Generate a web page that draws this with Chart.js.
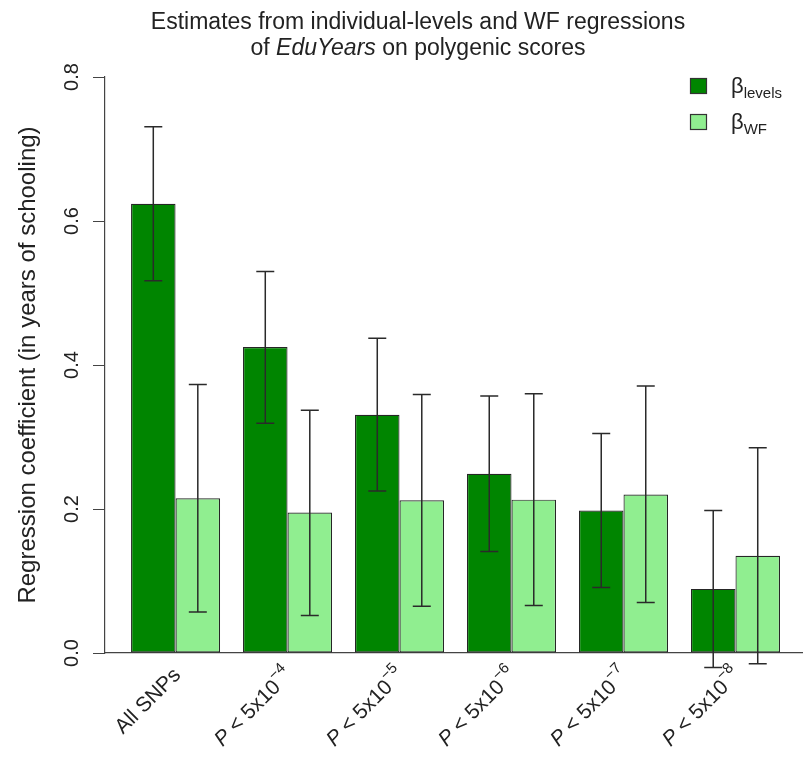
<!DOCTYPE html>
<html>
<head>
<meta charset="utf-8">
<script src="https://cdn.jsdelivr.net/npm/chart.js@4.4.0/dist/chart.umd.min.js"></script>
<style>
  html, body { margin: 0; padding: 0; background: #fff; }
  #wrap { width: 808px; height: 757px; }
</style>
</head>
<body>
<div id="wrap"><canvas id="chart"></canvas></div>
<script>
// SNP thresholds used to build each polygenic score ("^" marks the exponent)
const categories = ['All SNPs', 'P < 5x10^\u22124', 'P < 5x10^\u22125', 'P < 5x10^\u22126', 'P < 5x10^\u22127', 'P < 5x10^\u22128'];

// individual-level regressions: estimate and CI bounds
const levels     = [0.624, 0.425, 0.331, 0.249, 0.198, 0.089];
const levelsLow  = [0.517, 0.319, 0.225, 0.141, 0.091, -0.020];
const levelsHigh = [0.731, 0.530, 0.437, 0.357, 0.305, 0.198];

// within-family regressions: estimate and CI bounds
const wf     = [0.215, 0.195, 0.212, 0.213, 0.220, 0.135];
const wfLow  = [0.057, 0.052, 0.065, 0.066, 0.070, -0.015];
const wfHigh = [0.373, 0.337, 0.359, 0.360, 0.371, 0.285];

const seriesSubs = ['levels', 'WF'];
const yTicks = [0, 0.2, 0.4, 0.6, 0.8];

const FONT = '"Liberation Sans", Arial, Helvetica, sans-serif';
const INK = '#222';
const DARK = '#008500';
const LIGHT = '#90ee90';

// draw a row of text pieces with different fonts / vertical shifts
function drawRuns(ctx, runs, x, y, align) {
  let width = 0;
  runs.forEach(r => { ctx.font = r.font; r.w = ctx.measureText(r.text).width; width += r.w; });
  let cx = align === 'center' ? x - width / 2 : align === 'right' ? x - width : x;
  ctx.textAlign = 'left';
  runs.forEach(r => {
    ctx.font = r.font;
    ctx.fillText(r.text, cx, y + (r.dy || 0));
    cx += r.w;
  });
}

const errorBars = {
  id: 'errorBars',
  afterDatasetsDraw(chart) {
    const { ctx, scales: { y } } = chart;
    ctx.save();
    ctx.strokeStyle = '#2a2a2a';
    ctx.lineWidth = 1.5;
    chart.data.datasets.forEach((ds, d) => {
      chart.getDatasetMeta(d).data.forEach((bar, i) => {
        const top = y.getPixelForValue(ds.errHigh[i]);
        const bot = y.getPixelForValue(ds.errLow[i]);
        const cap = 9;
        ctx.beginPath();
        ctx.moveTo(bar.x, top); ctx.lineTo(bar.x, bot);
        ctx.moveTo(bar.x - cap, top); ctx.lineTo(bar.x + cap, top);
        ctx.moveTo(bar.x - cap, bot); ctx.lineTo(bar.x + cap, bot);
        ctx.stroke();
      });
    });
    ctx.restore();
  }
};

// rotated category labels with italic P and superscript exponent
const categoryLabels = {
  id: 'categoryLabels',
  afterDraw(chart) {
    const { ctx, scales: { x, y } } = chart;
    const base = y.getPixelForValue(0) + 19;
    ctx.save();
    ctx.fillStyle = INK;
    ctx.textBaseline = 'middle';
    categories.forEach((label, i) => {
      const [main, exp] = label.split('^');
      const runs = [];
      if (main.startsWith('P ')) {
        runs.push({ text: 'P', font: `italic 21px ${FONT}` });
        runs.push({ text: main.slice(1), font: `21px ${FONT}` });
      } else {
        runs.push({ text: main, font: `21px ${FONT}` });
      }
      if (exp) runs.push({ text: exp, font: `15px ${FONT}`, dy: -9 });
      ctx.save();
      ctx.translate(x.getPixelForValue(i) + 2, base);
      ctx.rotate(-Math.PI / 4);
      drawRuns(ctx, runs, 0, 0, 'right');
      ctx.restore();
    });
    ctx.restore();
  }
};

const titleBlock = {
  id: 'titleBlock',
  afterDraw(chart) {
    const { ctx } = chart;
    ctx.save();
    ctx.fillStyle = INK;
    ctx.textBaseline = 'alphabetic';
    drawRuns(ctx, [{ text: 'Estimates from individual-levels and WF regressions', font: `23px ${FONT}` }], 418, 29, 'center');
    drawRuns(ctx, [
      { text: 'of ', font: `23px ${FONT}` },
      { text: 'EduYears', font: `italic 23px ${FONT}` },
      { text: ' on polygenic scores', font: `23px ${FONT}` }
    ], 418, 55, 'center');
    ctx.restore();
  }
};

const betaLegend = {
  id: 'betaLegend',
  afterDraw(chart) {
    const { ctx } = chart;
    ctx.save();
    chart.data.datasets.forEach((ds, d) => {
      const cy = 86 + d * 36;
      ctx.fillStyle = ds.backgroundColor;
      ctx.strokeStyle = '#333';
      ctx.lineWidth = 1.2;
      ctx.fillRect(690.5, cy - 7.5, 16, 15);
      ctx.strokeRect(690.5, cy - 7.5, 16, 15);
      ctx.fillStyle = INK;
      ctx.textBaseline = 'alphabetic';
      drawRuns(ctx, [
        { text: '\u03b2', font: `22px ${FONT}` },
        { text: seriesSubs[d], font: `15px ${FONT}`, dy: 5 }
      ], 731, cy + 7, 'left');
    });
    ctx.restore();
  }
};

new Chart(document.getElementById('chart'), {
  type: 'bar',
  data: {
    datasets: [
      {
        label: 'levels',
        data: levels.map((v, i) => ({ x: i, y: v })),
        errLow: levelsLow, errHigh: levelsHigh,
        backgroundColor: DARK
      },
      {
        label: 'WF',
        data: wf.map((v, i) => ({ x: i, y: v })),
        errLow: wfLow, errHigh: wfHigh,
        backgroundColor: LIGHT
      }
    ]
  },
  options: {
    responsive: true,
    maintainAspectRatio: false,
    animation: false,
    layout: { padding: { top: 77, right: 6, bottom: 104, left: 0 } },
    datasets: {
      bar: {
        categoryPercentage: 0.795,
        barPercentage: 1,
        borderWidth: 1.2,
        borderColor: '#262626',
        borderSkipped: false
      }
    },
    plugins: {
      legend: { display: false },
      tooltip: { enabled: false }
    },
    scales: {
      x: {
        type: 'linear',
        offset: false,
        min: -0.63,
        max: 5.594,
        grid: { display: false, drawTicks: false, offset: false },
        border: { display: true, color: '#444', width: 1.2 },
        ticks: { display: false },
        afterBuildTicks: axis => { axis.ticks = categories.map((_, i) => ({ value: i })); },
        afterFit: axis => { axis.height = 0; }
      },
      y: {
        min: 0,
        max: 0.8,
        afterBuildTicks: axis => { axis.ticks = yTicks.map(v => ({ value: v })); },
        ticks: {
          minRotation: 90,
          maxRotation: 90,
          crossAlign: 'center',
          padding: 7,
          color: INK,
          font: { family: FONT, size: 20 },
          callback: v => Number(v).toFixed(1)
        },
        grid: { display: true, drawOnChartArea: false, drawTicks: true, tickLength: 12, color: '#444' },
        border: { display: true, color: '#444', width: 1.2 },
        title: {
          display: true,
          text: 'Regression coefficient (in years of schooling)',
          color: INK,
          font: { family: FONT, size: 24 },
          padding: { top: 14, bottom: 0 }
        },
        afterFit: axis => { axis.width = 105; }
      }
    }
  },
  plugins: [errorBars, categoryLabels, titleBlock, betaLegend]
});
</script>
</body>
</html>
